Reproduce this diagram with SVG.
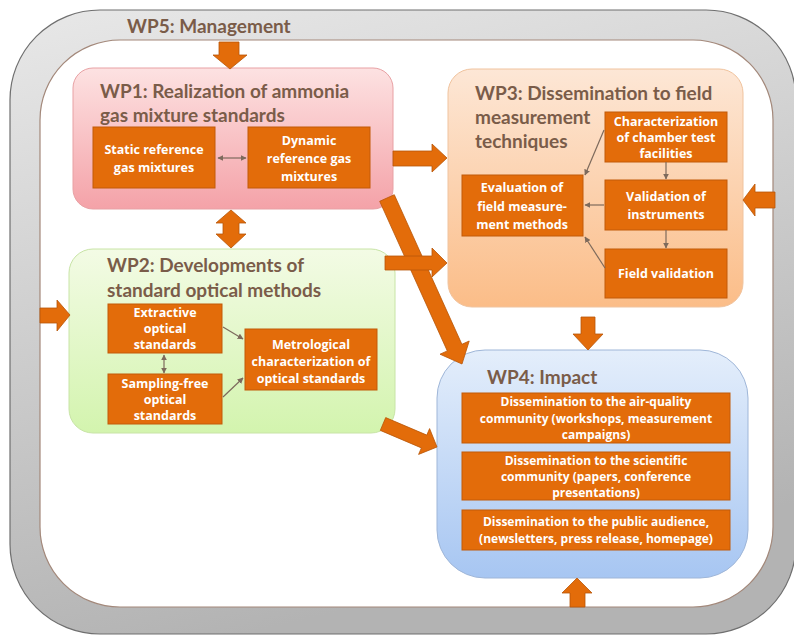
<svg xmlns="http://www.w3.org/2000/svg" width="794" height="636" viewBox="0 0 794 636">
<defs>
<linearGradient id="gFrame" x1="0" y1="0" x2="0.3" y2="1"><stop offset="0" stop-color="#e8e8e8"/><stop offset="1" stop-color="#b3b3b3"/></linearGradient>
<linearGradient id="gWP1" x1="0" y1="0" x2="0" y2="1"><stop offset="0" stop-color="#fde2e2"/><stop offset="1" stop-color="#f4a2a8"/></linearGradient>
<linearGradient id="gWP2" x1="0" y1="0" x2="0" y2="1"><stop offset="0" stop-color="#f3fbe5"/><stop offset="1" stop-color="#d3f4ae"/></linearGradient>
<linearGradient id="gWP3" x1="0" y1="0" x2="0" y2="1"><stop offset="0" stop-color="#fde7d6"/><stop offset="1" stop-color="#fbbd88"/></linearGradient>
<linearGradient id="gWP4" x1="0" y1="0" x2="0" y2="1"><stop offset="0" stop-color="#e4eefb"/><stop offset="1" stop-color="#a7c6f2"/></linearGradient>
<marker id="ah" viewBox="0 0 10 10" refX="9" refY="5" markerWidth="6" markerHeight="6" orient="auto-start-reverse" markerUnits="userSpaceOnUse"><path d="M0,0 L10,5 L0,10 z" fill="#7d6a5c"/></marker>
<style>
.title{font-family:Lato,"Liberation Sans",sans-serif;font-weight:bold;font-size:19px;fill:#7a5c49}
.box{fill:#e36c0a;stroke:#c25a08;stroke-width:1}
.bt{font-family:"Open Sans","Liberation Sans",sans-serif;font-weight:bold;font-size:12.5px;fill:#ffffff;text-anchor:middle}
.bt4{font-family:"Open Sans","Liberation Sans",sans-serif;font-weight:bold;font-size:12px;fill:#ffffff;text-anchor:middle}
.big{fill:#e36c0a;stroke:#b85508;stroke-width:0.8}
.thin{stroke:#7d6a5c;stroke-width:1.2;fill:none;marker-end:url(#ah)}
.dbl{marker-start:url(#ah)}
</style>
</defs>

<g id="wp5">
<rect x="10" y="10" width="786" height="624" rx="90" ry="90" fill="url(#gFrame)" stroke="#6f6f6f" stroke-width="1.2"/>
<rect x="40" y="40" width="733" height="567" rx="80" ry="80" fill="#ffffff" stroke="#a3887a" stroke-width="1.2"/>
<text class="title" x="127" y="33">WP5: Management</text>
</g>

<g id="wp1">
<rect x="73" y="68" width="320" height="141" rx="20" fill="url(#gWP1)" stroke="#e8a1a4" stroke-width="1"/>
<text class="title" x="100" y="98">WP1: Realization of ammonia</text>
<text class="title" x="100" y="122">gas mixture standards</text>
<g id="wp1-static"><rect class="box" x="93" y="127" width="122" height="61"/>
<text class="bt" x="154" y="154">Static reference</text><text class="bt" x="154" y="172">gas mixtures</text></g>
<g id="wp1-dynamic"><rect class="box" x="248" y="127" width="122" height="61"/>
<text class="bt" x="309" y="145">Dynamic</text><text class="bt" x="309" y="163">reference gas</text><text class="bt" x="309" y="181">mixtures</text></g>
</g>

<g id="wp3">
<rect x="448" y="69" width="295" height="238" rx="24" fill="url(#gWP3)" stroke="#f0c39e" stroke-width="1"/>
<text class="title" x="475" y="100">WP3: Dissemination to field</text>
<text class="title" x="475" y="124">measurement</text>
<text class="title" x="475" y="148">techniques</text>
<g id="wp3-char"><rect class="box" x="605" y="112" width="122" height="50"/>
<text class="bt" x="666" y="126">Characterization</text><text class="bt" x="666" y="142">of chamber test</text><text class="bt" x="666" y="158">facilities</text></g>
<g id="wp3-valid"><rect class="box" x="605" y="180" width="122" height="50"/>
<text class="bt" x="666" y="201">Validation of</text><text class="bt" x="666" y="219">instruments</text></g>
<g id="wp3-field"><rect class="box" x="605" y="249" width="122" height="49"/>
<text class="bt" x="666" y="278">Field validation</text></g>
<g id="wp3-eval"><rect class="box" x="462" y="175" width="121" height="61"/>
<text class="bt" x="522" y="192">Evaluation of</text><text class="bt" x="522" y="211">field measure-</text><text class="bt" x="522" y="229">ment methods</text></g>
</g>

<g id="wp2">
<rect x="69" y="249" width="326" height="184" rx="24" fill="url(#gWP2)" stroke="#c8e4a6" stroke-width="1"/>
<text class="title" x="107" y="272">WP2: Developments of</text>
<text class="title" x="107" y="297">standard optical methods</text>
<g id="wp2-extr"><rect class="box" x="108" y="304" width="114" height="49"/>
<text class="bt" x="165" y="317">Extractive</text><text class="bt" x="165" y="333">optical</text><text class="bt" x="165" y="349">standards</text></g>
<g id="wp2-samp"><rect class="box" x="108" y="374" width="114" height="50"/>
<text class="bt" x="165" y="388">Sampling-free</text><text class="bt" x="165" y="404">optical</text><text class="bt" x="165" y="420">standards</text></g>
<g id="wp2-metro"><rect class="box" x="245" y="329" width="132" height="61"/>
<text class="bt" x="311" y="349">Metrological</text><text class="bt" x="311" y="366">characterization of</text><text class="bt" x="311" y="383">optical standards</text></g>
</g>

<g id="wp4">
<rect x="437" y="350" width="311" height="228" rx="48" fill="url(#gWP4)" stroke="#9fb6d8" stroke-width="1"/>
<text class="title" x="487" y="384">WP4: Impact</text>
<g id="wp4-air"><rect class="box" x="462" y="393" width="268" height="50"/>
<text class="bt4" x="596" y="406">Dissemination to the air-quality</text><text class="bt4" x="596" y="422.5">community (workshops, measurement</text><text class="bt4" x="596" y="439">campaigns)</text></g>
<g id="wp4-sci"><rect class="box" x="462" y="452" width="268" height="48"/>
<text class="bt4" x="596" y="465">Dissemination to the scientific</text><text class="bt4" x="596" y="481">community (papers, conference</text><text class="bt4" x="596" y="497">presentations)</text></g>
<g id="wp4-pub"><rect class="box" x="462" y="510" width="268" height="40"/>
<text class="bt4" x="596" y="526">Dissemination to the public audience,</text><text class="bt4" x="596" y="543">(newsletters, press release, homepage)</text></g>
</g>

<g id="connectors">
<polygon class="big" points="219,42 239,42 239,55 247,55 230,69 213,55 219,55"/>
<polygon class="big" points="231,210 246,223 239,223 239,234 246,234 231,248 216,234 223,234 223,223 216,223"/>
<polygon class="big" points="393,151 432,151 432,144 447,158 432,172 432,166 393,166"/>
<polygon class="big" points="379.7,201.3 447.3,350.9 440,354.2 462,364 469.2,341 461.9,344.3 394.3,194.7"/>
<polygon class="big" points="385,256 432,256 432,248 447,263 432,277 432,270 385,270"/>
<polygon class="big" points="380.3,430.4 421.4,447.9 418.6,454.4 437,447 429.6,428.6 426.8,435.1 385.7,417.6"/>
<polygon class="big" points="581,317 595,317 595,334 603,334 588,350 573,334 581,334"/>
<polygon class="big" points="775,192 755,192 755,184 743,200 755,216 755,208 775,208"/>
<polygon class="big" points="40,308 57,308 57,300 70,315 57,331 57,323 40,323"/>
<polygon class="big" points="570,607 585,607 585,593 592,593 577,578 562,593 570,593"/>
<line class="thin dbl" x1="218" y1="158" x2="246" y2="158"/>
<line class="thin dbl" x1="164" y1="355" x2="164" y2="373"/>
<line class="thin" x1="223" y1="327" x2="243" y2="339"/>
<line class="thin" x1="223" y1="397" x2="243" y2="378"/>
<line class="thin" x1="604" y1="130" x2="585" y2="175"/>
<line class="thin" x1="604" y1="205" x2="585" y2="205"/>
<line class="thin" x1="605" y1="268" x2="585" y2="237"/>
<line class="thin" x1="666" y1="162" x2="666" y2="179"/>
<line class="thin" x1="666" y1="230" x2="666" y2="248"/>
</g>
</svg>
